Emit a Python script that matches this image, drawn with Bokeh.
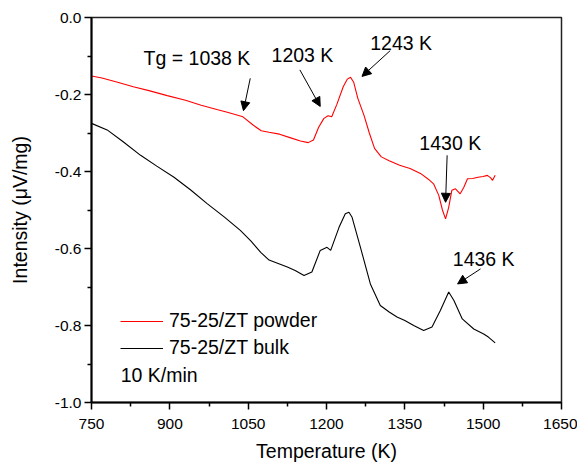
from bokeh.plotting import figure
from bokeh.models import (Range1d, FixedTicker, Label, Arrow, NormalHead,
                          ColumnDataSource, Legend)
from bokeh.embed import file_html
from bokeh.resources import INLINE

# ---- data ----
powder_T = [750, 770, 800, 830, 860, 895, 930, 960, 990, 1010, 1040, 1060, 1075,
            1090, 1110, 1130, 1150, 1165, 1175, 1185, 1195, 1203, 1210, 1220, 1232,
            1240, 1246, 1252, 1260, 1272, 1282, 1292, 1305, 1320, 1340, 1360, 1380,
            1395, 1405, 1415, 1422, 1428, 1434, 1440, 1447, 1456, 1463, 1470, 1480,
            1490, 1500, 1508, 1514, 1518, 1523]
powder_I = [-0.152, -0.157, -0.168, -0.180, -0.190, -0.203, -0.215, -0.228, -0.239,
            -0.246, -0.258, -0.280, -0.294, -0.298, -0.303, -0.312, -0.321, -0.325,
            -0.318, -0.285, -0.262, -0.255, -0.258, -0.225, -0.180, -0.160, -0.155,
            -0.168, -0.210, -0.255, -0.300, -0.340, -0.362, -0.372, -0.384, -0.392,
            -0.405, -0.420, -0.432, -0.462, -0.500, -0.523, -0.493, -0.449, -0.445,
            -0.458, -0.441, -0.419, -0.418, -0.415, -0.413, -0.410, -0.416, -0.423,
            -0.410]

bulk_T = [750, 780, 810, 844, 875, 908, 940, 972, 1004, 1035, 1055, 1074, 1090,
          1110, 1125, 1140, 1157, 1172, 1188, 1201, 1208, 1224, 1236, 1243, 1249,
          1265, 1284, 1303, 1320, 1335, 1350, 1367, 1386, 1402, 1418, 1434, 1444,
          1460, 1482, 1501, 1510, 1523]
bulk_I = [-0.275, -0.292, -0.322, -0.358, -0.386, -0.415, -0.448, -0.484, -0.518,
          -0.553, -0.580, -0.610, -0.630, -0.640, -0.648, -0.657, -0.670, -0.661,
          -0.605, -0.597, -0.605, -0.545, -0.510, -0.506, -0.519, -0.597, -0.692,
          -0.748, -0.765, -0.778, -0.787, -0.800, -0.813, -0.804, -0.761, -0.713,
          -0.735, -0.783, -0.809, -0.822, -0.830, -0.845]

x_ticks = [750, 900, 1050, 1200, 1350, 1500, 1650]
y_ticks = [-1.0, -0.8, -0.6, -0.4, -0.2, 0.0]
y_tick_labels = ["-1.0", "-0.8", "-0.6", "-0.4", "-0.2", "0.0"]

series_names = ["75-25/ZT powder", "75-25/ZT bulk"]
rate_text = "10 K/min"
x_title = "Temperature (K)"
y_title = "Intensity (\u03bcV/mg)"

ann_text = ["Tg = 1038 K", "1203 K", "1243 K", "1430 K", "1436 K"]
ann_tx = [952, 1154, 1343, 1437, 1501]
ann_ty = [-0.106, -0.098, -0.067, -0.327, -0.628]
arr_x0 = [1054, 1149, 1322, 1431, 1495]
arr_y0 = [-0.158, -0.136, -0.086, -0.358, -0.653]
arr_x1 = [1041, 1188, 1268, 1428, 1451]
arr_y1 = [-0.242, -0.231, -0.153, -0.480, -0.692]

FONT = "Liberation Sans"

p = figure(width=577, height=466, x_range=Range1d(750, 1650), y_range=Range1d(-1.0, 0.0),
           output_backend="svg", toolbar_location=None,
           min_border_left=91, min_border_right=16, min_border_top=17, min_border_bottom=64)
p.grid.visible = False
p.outline_line_color = "#222222"
p.outline_line_width = 1.5
p.background_fill_color = "white"
p.border_fill_color = "white"

r1 = p.line(powder_T, powder_I, line_color="#ff0000", line_width=1.1)
r2 = p.line(bulk_T, bulk_I, line_color="black", line_width=1.1)

minor_x = [(a + b) / 2 for a, b in zip(x_ticks[:-1], x_ticks[1:])]
minor_y = [(a + b) / 2 for a, b in zip(y_ticks[:-1], y_ticks[1:])]
p.xaxis.ticker = FixedTicker(ticks=x_ticks, minor_ticks=minor_x)
p.yaxis.ticker = FixedTicker(ticks=y_ticks, minor_ticks=minor_y)
p.yaxis.major_label_overrides = {t: l for t, l in zip(y_ticks, y_tick_labels)}

for ax in (p.xaxis[0], p.yaxis[0]):
    ax.axis_line_width = 2
    ax.axis_line_color = "black"
    ax.major_tick_in = 0
    ax.major_tick_out = 7
    ax.minor_tick_in = 0
    ax.minor_tick_out = 4
    ax.major_tick_line_width = 1.5
    ax.minor_tick_line_width = 1.5
    ax.major_label_text_font = FONT
    ax.major_label_text_font_size = "15.5px"
    ax.major_label_text_color = "black"
    ax.axis_label_text_font = FONT
    ax.axis_label_text_font_size = "19.5px"
    ax.axis_label_text_font_style = "normal"
    ax.axis_label_text_color = "black"

p.xaxis.axis_label = x_title
p.yaxis.axis_label = y_title
p.xaxis.major_label_standoff = 9
p.xaxis.axis_label_standoff = 8
p.yaxis.major_label_standoff = 3
p.yaxis.axis_label_standoff = 21

legend = Legend(items=[(series_names[0], [r1]), (series_names[1], [r2])],
                location=(29, 43), padding=0, margin=0, spacing=4,
                glyph_width=43, glyph_height=20, label_height=20, label_standoff=6,
                label_text_font=FONT, label_text_font_size="19.5px",
                label_text_color="black",
                border_line_alpha=0, background_fill_alpha=0)
p.add_layout(legend, "center")

p.add_layout(Label(x=806, y=-0.929, text=rate_text, text_font=FONT, text_color="black",
                   text_font_size="19.5px", text_baseline="alphabetic", text_align="left"))

for t, x, y in zip(ann_text, ann_tx, ann_ty):
    p.add_layout(Label(x=x, y=y, text=t, text_font=FONT, text_font_size="19.5px",
                       text_align="center", text_baseline="alphabetic", text_color="black"))

arr_src = ColumnDataSource(dict(x0=arr_x0, y0=arr_y0, x1=arr_x1, y1=arr_y1))
p.add_layout(Arrow(x_start="x0", y_start="y0", x_end="x1", y_end="y1", source=arr_src,
                   line_color="black", line_width=1,
                   end=NormalHead(size=9, fill_color="black", line_color="black", line_width=1)))

open("out.html", "w").write(file_html(p, INLINE))
